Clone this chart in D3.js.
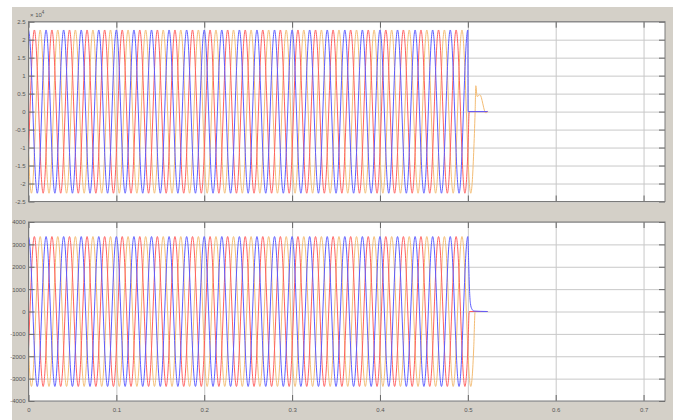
<!DOCTYPE html>
<html><head><meta charset="utf-8">
<script src="https://cdn.jsdelivr.net/npm/d3@7"></script>
<style>body{margin:0;background:#fff}svg{display:block}text{font-family:"Liberation Sans",Arial,sans-serif}</style>
</head><body><svg id="c" width="680" height="420"></svg>
<script>
// ---- data ----
const periodS = 0.02;              // 50 Hz
const steadyCycles = 25;           // 0 .. 0.5 s
const seriesNames = ["A", "B", "C"];
// one cycle, 12 samples per period (every 30 degrees)
const topCycleA = [22700, 19660, 11350, 0, -11350, -19660, -22700, -19660, -11350, 0, 11350, 19660];
const topCycleB = [-11350, 0, 11350, 19660, 22700, 19660, 11350, 0, -11350, -19660, -22700, -19660];
const topCycleC = [-11350, -19660, -22700, -19660, -11350, 0, 11350, 19660, 22700, 19660, 11350, 0];
const botCycleA = [3350, 2901, 1675, 0, -1675, -2901, -3350, -2901, -1675, 0, 1675, 2901];
const botCycleB = [-1675, 0, 1675, 2901, 3350, 2901, 1675, 0, -1675, -2901, -3350, -2901];
const botCycleC = [-1675, -2901, -3350, -2901, -1675, 0, 1675, 2901, 3350, 2901, 1675, 0];
// after the breaker opens (t >= 0.5 s): [time, value]
const topTailA = [[0.5, 22700], [0.5003, 0], [0.5225, 0]];
const topTailB = [[0.5, -11350], [0.50167, 0], [0.5225, 0]];
const topTailC = [[0.5, -11350], [0.50167, -19660], [0.50333, -22700], [0.505, -19660], [0.50667, -11350], [0.5083, 0], [0.5091, 7200], [0.5106, 4200], [0.5137, 4700], [0.5205, -400], [0.5225, 200]];
const botTailA = [[0.5, 3350], [0.5011, 2000], [0.502, 900], [0.503, 350], [0.5045, 120], [0.507, 20], [0.5225, 0]];
const botTailB = [[0.5, -1675], [0.50167, 0], [0.5225, 0]];
const botTailC = [[0.5, -1675], [0.50167, -2901], [0.50333, -3350], [0.505, -2901], [0.50667, -1675], [0.5083, 0], [0.5225, 0]];
const xTicks = [0, 0.1, 0.2, 0.3, 0.4, 0.5, 0.6, 0.7];
const xTickLabels = ["0", "0.1", "0.2", "0.3", "0.4", "0.5", "0.6", "0.7"];
const topYTicks = [-25000, -20000, -15000, -10000, -5000, 0, 5000, 10000, 15000, 20000, 25000];
const topYTickLabels = ["-2.5", "-2", "-1.5", "-1", "-0.5", "0", "0.5", "1", "1.5", "2", "2.5"];
const botYTicks = [-4000, -3000, -2000, -1000, 0, 1000, 2000, 3000, 4000];
const botYTickLabels = ["-4000", "-3000", "-2000", "-1000", "0", "1000", "2000", "3000", "4000"];
const xMax = 0.7244;

// ---- build series from cycles + tails ----
function buildSeries(cycle, tail) {
  const pts = [];
  for (let c = 0; c < steadyCycles; c++) {
    cycle.forEach((v, k) => pts.push([c * periodS + k * periodS / cycle.length, v]));
  }
  tail.forEach(p => pts.push(p));
  return pts;
}
const colors = {A: "#5c5cff", B: "#ff5f5f", C: "#f3bc74"};
const topSeries = {A: buildSeries(topCycleA, topTailA), B: buildSeries(topCycleB, topTailB), C: buildSeries(topCycleC, topTailC)};
const botSeries = {A: buildSeries(botCycleA, botTailA), B: buildSeries(botCycleB, botTailB), C: buildSeries(botCycleC, botTailC)};

const svg = d3.select("#c");
svg.append("rect").attr("x", 12).attr("y", 7).attr("width", 661).attr("height", 413).attr("fill", "#d4d0c8");

const x = d3.scaleLinear().domain([0, xMax]).range([28.5, 665]);

function panel(series, yDomain, yRange, yTicks, yLabels, showX) {
  const y = d3.scaleLinear().domain(yDomain).range(yRange);
  const top = yRange[1], bot = yRange[0], left = x.range()[0], right = x.range()[1];
  const g = svg.append("g");
  g.append("rect").attr("x", left).attr("y", top).attr("width", right - left).attr("height", bot - top).attr("fill", "#fff");
  // grid
  const gx = g.append("g").attr("transform", `translate(0,${bot})`)
    .call(d3.axisBottom(x).tickValues(xTicks).tickSize(-(bot - top)).tickFormat(""));
  const gy = g.append("g").attr("transform", `translate(${left},0)`)
    .call(d3.axisLeft(y).tickValues(yTicks).tickSize(-(right - left)).tickFormat(""));
  [gx, gy].forEach(a => { a.select(".domain").remove(); a.selectAll("line").attr("stroke", "#c8c8c8").attr("stroke-width", 1); });
  // lines
  const clipId = "clip" + Math.round(top);
  g.append("clipPath").attr("id", clipId).append("rect").attr("x", left).attr("y", top).attr("width", right - left).attr("height", bot - top);
  const line = d3.line().x(d => x(d[0])).y(d => y(d[1])).curve(d3.curveMonotoneX);
  ["C", "B", "A"].forEach(k => {
    g.append("path").datum(series[k]).attr("d", line).attr("fill", "none")
      .attr("stroke", colors[k]).attr("stroke-width", 1).attr("clip-path", `url(#${clipId})`);
  });
  // axes with inside ticks
  const tickLen = 6;
  const ab = g.append("g").attr("transform", `translate(0,${bot})`)
    .call(d3.axisBottom(x).tickValues(xTicks).tickSize(-tickLen).tickPadding(7).tickFormat((d, i) => showX ? xTickLabels[i] : ""));
  const at = g.append("g").attr("transform", `translate(0,${top})`)
    .call(d3.axisTop(x).tickValues(xTicks).tickSize(-tickLen).tickFormat(""));
  const al = g.append("g").attr("transform", `translate(${left},0)`)
    .call(d3.axisLeft(y).tickValues(yTicks).tickSize(-tickLen).tickPadding(3).tickFormat((d, i) => yLabels[i]));
  const ar = g.append("g").attr("transform", `translate(${right},0)`)
    .call(d3.axisRight(y).tickValues(yTicks).tickSize(-tickLen).tickFormat(""));
  [ab, at, al, ar].forEach(a => {
    a.select(".domain").remove();
    a.selectAll("line").attr("stroke", "#666");
    a.selectAll("text").attr("fill", "#555").style("font-size", "6px").style("font-family", "'Liberation Sans', Arial, sans-serif");
  });
  g.append("rect").attr("x", left).attr("y", top).attr("width", right - left).attr("height", bot - top)
    .attr("fill", "none").attr("stroke", "#7a7a7a").attr("stroke-width", 1);
  return y;
}

panel(topSeries, [-25000, 25000], [201.5, 21.7], topYTicks, topYTickLabels, false);
panel(botSeries, [-4000, 4000], [401, 222], botYTicks, botYTickLabels, true);

// exponent label
const ex = svg.append("text").attr("x", 30).attr("y", 17).attr("fill", "#555").style("font-size", "6px");
ex.append("tspan").text("\u00d7 10");
ex.append("tspan").attr("dy", -3).style("font-size", "4.5px").text("4");
</script></body></html>
